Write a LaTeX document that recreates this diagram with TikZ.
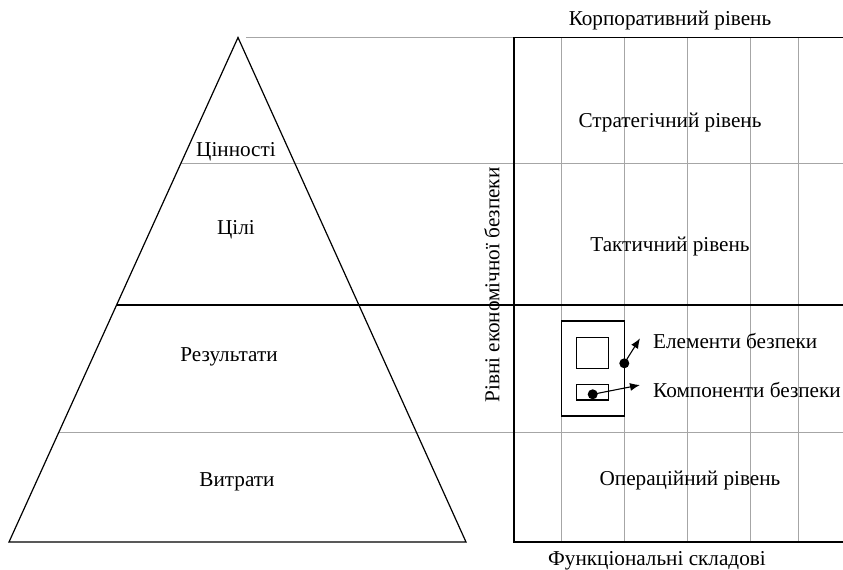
\documentclass[tikz,border=0pt]{standalone}
\usepackage{fontspec}
\setmainfont{Liberation Serif}
\usetikzlibrary{arrows.meta}
\begin{document}
\begin{tikzpicture}[x=1pt,y=-1pt,
  blk/.style={line width=1.2pt, black},
  gry/.style={line width=0.8pt, black!35},
  lbl/.style={font=\fontsize{21.2}{24}\selectfont, inner sep=0pt},
  arr/.style={line width=1.1pt, -{Latex[length=10pt,width=8pt]}},
  dot/.style={circle, fill=black, inner sep=0pt, minimum size=10pt}
]
\useasboundingbox (0,0) rectangle (843,570);
% grid verticals
\foreach \x in {561.7,624.3,687.3,750.7,798.3} \draw[gry] (\x,37.5) -- (\x,542);
% horizontals
\draw[gry] (246,37.5) -- (514,37.5);
\draw[gry] (181,163.5) -- (843,163.5);
\draw[blk] (117,305) -- (843,305);
\draw[gry] (59,432) -- (843,432);
% rectangle
\draw[blk] (843,37.5) -- (514,37.5) -- (514,542) -- (843,542);
% triangle
\draw[blk] (238,37.5) -- (9,542) -- (466,542) -- cycle;
% pyramid labels
\node[lbl] (cinn) at (236,152) {Цінності};
\node[lbl] (cili) at (236,230) {Цілі};
\node[lbl] (rez) at (229,357) {Результати};
\node[lbl] (vytr) at (237,482) {Витрати};
% right labels
\node[lbl] (korp) at (670,20) {Корпоративний рівень};
\node[lbl] (strat) at (670,122) {Стратегічний рівень};
\node[lbl] (takt) at (670,246) {Тактичний рівень};
\node[lbl] (oper) at (690,480) {Операційний рівень};
\node[lbl] (func) at (657,561) {Функціональні складові};
\node[lbl, rotate=90] (rivni) at (492,285) {Рівні економічної безпеки};
% inner boxes
\draw[blk] (561.7,321) rectangle (624.3,416);
\draw[blk] (576.7,337.3) rectangle (608.7,368.7);
\draw[blk] (576.7,384.3) rectangle (608.7,400);
\node[dot] (d1) at (624.3,363.3) {};
\node[dot] (d2) at (592.7,394.3) {};
\node[lbl, anchor=west] (elem) at (653,341) {Елементи безпеки};
\node[lbl, anchor=west] (komp) at (653,390) {Компоненти безпеки};
\coordinate (e1) at (640,338.3);
\coordinate (e2) at (640,385);
\draw[arr] (d1.center) -- (e1);
\draw[arr] (d2.center) -- (e2);
\end{tikzpicture}
\end{document}
